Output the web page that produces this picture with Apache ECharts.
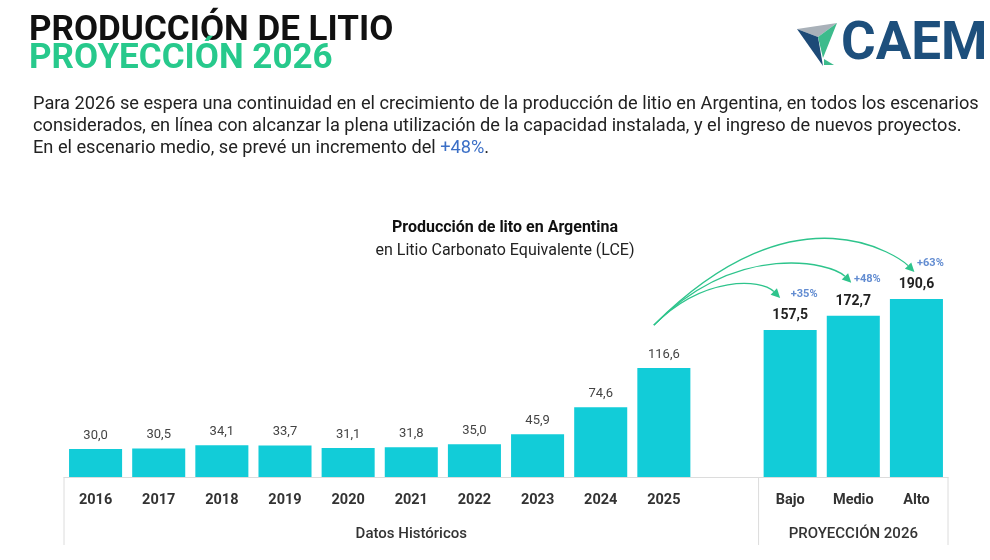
<!DOCTYPE html>
<html><head><meta charset="utf-8">
<script src="https://cdn.jsdelivr.net/npm/echarts@6/dist/echarts.min.js"></script>
<style>html,body{margin:0;padding:0;background:#fff}#c{width:990px;height:560px}</style>
</head><body><div id="c"></div>
<script>
// ---- data ----
const categories = ['2016','2017','2018','2019','2020','2021','2022','2023','2024','2025','','Bajo','Medio','Alto'];
const historico  = [30.0,30.5,34.1,33.7,31.1,31.8,35.0,45.9,74.6,116.6,null,null,null,null];
const proyeccion = [null,null,null,null,null,null,null,null,null,null,null,157.5,172.7,190.6];
const crecimiento = ['','','','','','','','','','','','+35%','+48%','+63%'];
const grupos = ['','','','','','Datos Históricos','','','','','','','PROYECCIÓN 2026',''];
const baseIndex = 9; // 2025, base of the growth arrows

const fmt = v => v == null ? '' : v.toFixed(1).replace('.', ',');
const FONT = 'Roboto, "Noto Sans", sans-serif';
const BAR = '#12ccd8';
const GREEN = '#2ec48c';

const chart = echarts.init(document.getElementById('c'), null, {renderer: 'canvas'});
chart.setOption({
  animation: false,
  grid: {left: 64, right: 42, top: 243.5, bottom: 83},
  xAxis: [{
    type: 'category', data: categories, position: 'bottom',
    axisLine: {show: true, lineStyle: {color: '#dcdcdc', width: 1}},
    axisTick: {show: false},
    axisLabel: {interval: 0, margin: 16, color: '#333', fontSize: 14.5, fontWeight: 'bold', fontFamily: FONT}
  }, {
    type: 'category', data: grupos, position: 'bottom',
    axisLine: {show: false}, axisTick: {show: false},
    axisLabel: {interval: 0, margin: 50, color: '#333', fontSize: 15, fontWeight: 500, fontFamily: FONT}
  }],
  yAxis: {type: 'value', min: 0, max: 250, show: false, splitLine: {show: false}},
  series: [{
    type: 'bar', data: historico, stack: 's', barWidth: '84%', itemStyle: {color: BAR},
    label: {show: true, position: 'top', distance: 7, color: '#444', fontSize: 13, fontFamily: FONT,
      formatter: p => fmt(p.value)}
  }, {
    type: 'bar', data: proyeccion, stack: 's', barWidth: '84%', itemStyle: {color: BAR},
    label: {show: true, position: 'top', distance: 7, color: '#222', fontSize: 14, fontWeight: 'bold', fontFamily: FONT,
      formatter: p => fmt(p.value)}
  }, {
    type: 'scatter', data: proyeccion, symbolSize: 0, silent: true,
    label: {show: true, position: 'inside', offset: [14, -36], color: '#3b6fc6', fontSize: 11, fontWeight: 'bold', fontFamily: FONT,
      formatter: p => crecimiento[p.dataIndex]}
  }]
});

// ---- annotations derived from the axes ----
const px = (i, v) => chart.convertToPixel({gridIndex: 0}, [i, v]);
const band = px(1, 0)[0] - px(0, 0)[0];
const axisY = px(0, 0)[1];
const g = [];

// separators below the axis
[px(0, 0)[0] - band / 2, px(10, 0)[0] + band / 2, px(13, 0)[0] + band / 2].forEach(x => {
  g.push({type: 'line', silent: true, shape: {x1: x, y1: axisY, x2: x, y2: axisY + 68},
    style: {stroke: '#dcdcdc', lineWidth: 1}});
});

// growth arrows from 2025 to each scenario
const startP = px(baseIndex, historico[baseIndex]);
const P0 = [startP[0] - 10, startP[1] - 43];
const endOffsets = [[-10, -32], [-2, -33], [-2, -27]];
const ctrl = [[50, 19], [85, 20], [145, 13]];
[11, 12, 13].forEach((idx, k) => {
  const e = px(idx, proyeccion[idx]);
  const P3 = [e[0] + endOffsets[k][0], e[1] + endOffsets[k][1]];
  const a = ctrl[k][0], b = ctrl[k][1];
  const C1 = [P0[0] + a, P0[1] - a];
  const C2 = [P3[0] - b, P3[1] - b];
  let dx = P3[0] - C2[0], dy = P3[1] - C2[1];
  const L = Math.hypot(dx, dy); dx /= L; dy /= L;
  const len = 9, w = 4.5;
  const B = [P3[0] - dx * len, P3[1] - dy * len];
  g.push({type: 'bezierCurve', silent: true,
    shape: {x1: P0[0], y1: P0[1], cpx1: C1[0], cpy1: C1[1], cpx2: C2[0], cpy2: C2[1], x2: B[0], y2: B[1]},
    style: {stroke: GREEN, lineWidth: 1.3, fill: null}});
  g.push({type: 'polygon', silent: true,
    shape: {points: [P3, [B[0] - dy * w, B[1] + dx * w], [B[0] + dy * w, B[1] - dx * w]]},
    style: {fill: GREEN}});
});

// header texts
g.push({type: 'text', x: 29, y: 31, style: {text: 'PRODUCCIÓN DE LITIO', font: 'bold 35px ' + FONT, fill: '#111', verticalAlign: 'middle'}});
g.push({type: 'text', x: 29, y: 59, style: {text: 'PROYECCIÓN 2026', font: 'bold 35px ' + FONT, fill: '#27c98c', verticalAlign: 'middle'}});
g.push({type: 'text', x: 33, y: 93, style: {
  text: 'Para 2026 se espera una continuidad en el crecimiento de la producción de litio en Argentina, en todos los escenarios\n' +
        'considerados, en línea con alcanzar la plena utilización de la capacidad instalada, y el ingreso de nuevos proyectos.\n' +
        'En el escenario medio, se prevé un incremento del {b|+48%}.',
  fontSize: 18.2, fontFamily: FONT, fill: '#222', lineHeight: 22, verticalAlign: 'top',
  rich: {b: {fill: '#3b6fc6', fontSize: 18.2, fontFamily: FONT, lineHeight: 22}}
}});
g.push({type: 'text', x: 505, y: 228, style: {text: 'Producción de lito en Argentina', font: 'bold 16px ' + FONT, fill: '#111', align: 'center', verticalAlign: 'middle'}});
g.push({type: 'text', x: 505, y: 251, style: {text: 'en Litio Carbonato Equivalente (LCE)', font: '16px ' + FONT, fill: '#222', align: 'center', verticalAlign: 'middle'}});

// logo
g.push({type: 'polygon', silent: true, shape: {points: [[797, 29], [837, 23], [818, 37]]}, style: {fill: '#a9b1b9'}});
g.push({type: 'polygon', silent: true, shape: {points: [[797, 29], [818, 37], [823, 66]]}, style: {fill: '#1d4a77'}});
g.push({type: 'polygon', silent: true, shape: {points: [[818, 37], [837, 23], [823, 58]]}, style: {fill: '#3dbb8c'}});
g.push({type: 'polygon', silent: true, shape: {points: [[824, 59], [834, 65], [824, 65]]}, style: {fill: '#3dbb8c'}});
g.push({type: 'text', x: 841, y: 46, style: {text: 'CAEM', font: 'bold 53px ' + FONT, fill: '#1d4f7c', verticalAlign: 'middle'}});

chart.setOption({graphic: g});
</script>
</body></html>
